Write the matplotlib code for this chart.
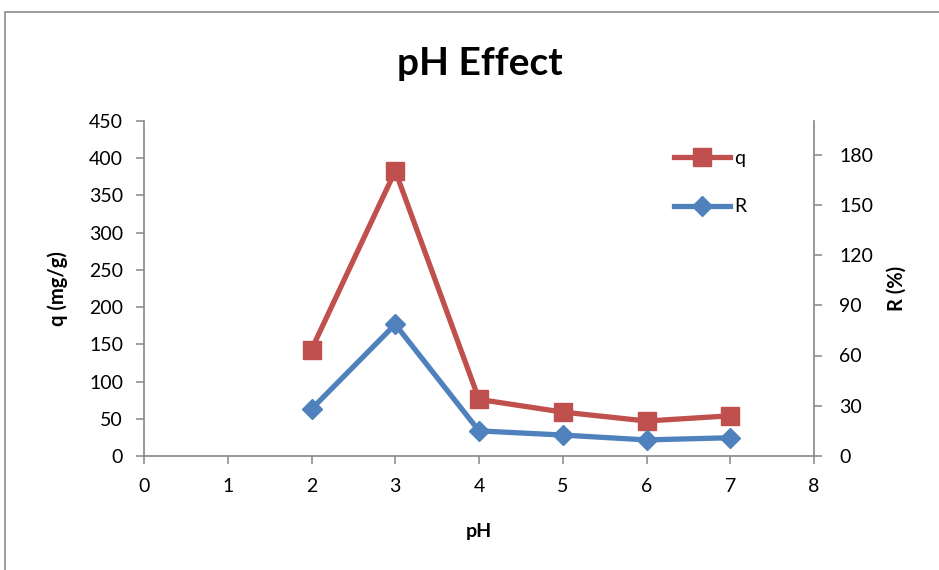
import matplotlib.pyplot as plt
from matplotlib.patches import Rectangle

# data
ph = [2, 3, 4, 5, 6, 7]
q_vals = [143, 383, 76, 59, 47, 54]
r_vals = [28, 78.6, 15, 12.5, 9.6, 10.9]

plt.rcParams['font.family'] = ['Lato', 'DejaVu Sans']

fig = plt.figure(figsize=(9.39, 5.70), dpi=100)

# outer chart border like the Excel frame
fig.patches.append(Rectangle((5 / 939, -0.05), 1.0, 1 - 12 / 570 + 0.05,
                             transform=fig.transFigure, fill=False,
                             edgecolor='#8c8c8c', linewidth=1.2))

ax = fig.add_axes([144 / 939, 1 - 456 / 570, (814 - 144) / 939, (456 - 121) / 570])
ax2 = ax.twinx()

red = '#c0504d'
blue = '#4f81bd'

l1, = ax.plot(ph, q_vals, color=red, lw=3.8, marker='s', ms=13.5, label='q', zorder=3)
l2, = ax2.plot(ph, r_vals, color=blue, lw=3.8, marker='D', ms=10, label='R', zorder=3)

ax.set_xlim(0, 8)
ax.set_ylim(0, 450)
ax2.set_ylim(0, 200)
ax.set_xticks(range(0, 9))
ax.set_yticks(range(0, 451, 50))
ax2.set_yticks(range(0, 181, 30))

for a in (ax, ax2):
    a.spines['top'].set_visible(False)
    for s in a.spines.values():
        s.set_color('#868686')
        s.set_linewidth(1.2)
    a.tick_params(colors='#868686', labelcolor='black', labelsize=14, length=6,
                  width=1.1, direction='out')
ax.spines['right'].set_visible(False)
ax2.spines['left'].set_visible(False)
ax2.spines['bottom'].set_visible(False)
ax.tick_params(axis='x', pad=10)
ax.tick_params(axis='y', pad=9)
ax2.tick_params(axis='y', pad=12)

ax.set_xlabel('pH', fontsize=14, fontweight='bold', labelpad=20)
ax.set_ylabel('q (mg/g)', fontsize=14.5, fontweight='bold', labelpad=15)
ax2.set_ylabel('R (%)', fontsize=14.5, fontweight='bold', labelpad=10)

fig.text(0.511, 0.888, 'pH Effect', ha='center', va='center', fontsize=28, fontweight='bold')

ax2.legend([l1, l2], ['q', 'R'], loc='upper right', frameon=False, fontsize=14,
           bbox_to_anchor=(0.925, 0.965), handlelength=2.9, labelspacing=1.6,
           handletextpad=0.2)

fig.savefig('out.png', dpi=100)
